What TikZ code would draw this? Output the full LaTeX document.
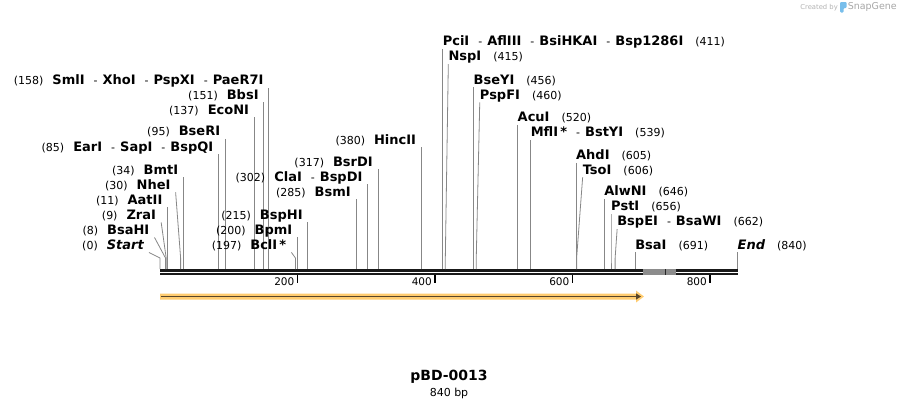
\documentclass[tikz,border=0pt]{standalone}
\usepackage{fontspec}
\setmainfont{DejaVu Sans}
\usetikzlibrary{positioning}
\usetikzlibrary{arrows.meta}
\usetikzlibrary{calc}

\definecolor{featfill}{RGB}{255,204,112}
\definecolor{featline}{RGB}{88,70,42}
\definecolor{leadergray}{RGB}{135,135,135}
\definecolor{logoblue}{RGB}{120,190,235}

% small helpers for the enzyme labels
\newcommand\bpn[1]{{\fontsize{11}{13}\selectfont\mdseries(#1)}}
\newcommand\enz[1]{{\fontsize{13}{15}\selectfont\bfseries #1}}
\newcommand\enzit[1]{{\fontsize{13}{15}\selectfont\bfseries\itshape #1}}
\newcommand\sepr{\hspace{9pt}{\fontsize{11}{13}\selectfont -}\hspace{5pt}}
\newcommand\gapp{\hspace{9pt}}

\tikzset{
  site label/.style={inner sep=1pt, text height=10.5pt, text depth=2pt},
  leader/.style={draw=leadergray, line width=0.8pt},
  bar line/.style={draw=black!90, line width=2.6pt},
  tick/.style={draw=black, line width=1.6pt},
}

\begin{document}
\begin{tikzpicture}[x=1pt,y=-1pt]
      \useasboundingbox (0,0) rectangle (899,408);

      % bp -> pixel position on the map
      \def\xo{160}
      \def\sc{0.6875}

      % the sequence bar
      \coordinate (s0) at (\xo,269);
      \coordinate (s840) at ({\xo+\sc*840},269);
      \draw[bar line] (\xo,270.2) -- (643,270.2) (676,270.2) -- ({\xo+\sc*840},270.2);
      \draw[bar line] (\xo,273.8) -- (643,273.8) (676,273.8) -- ({\xo+\sc*840},273.8);
      \fill[black!45] (643,268.9) rectangle (676,275.1);
      \fill[black!85] (664.5,268.9) rectangle (665.5,275.1);

      % ruler ticks
      \foreach \t in {200,400,600,800}
          {\coordinate (k\t) at ({\xo+\sc*\t},275);
           \draw[tick] (k\t) -- ++(0,8);
           \node[anchor=east, inner sep=1pt, font=\fontsize{10.5}{12}\selectfont] (n\t) at ([xshift=-2pt,yshift=-7pt]k\t) {\t};}

      % sites labelled on the left
      \foreach \bp/\yy/\dx/\id/\txt in {
          158/80.7/0/smlI/{\bpn{158}\gapp\enz{SmlI}\sepr\enz{XhoI}\sepr\enz{PspXI}\sepr\enz{PaeR7I}},
          151/95/0/bbsI/{\bpn{151}\gapp\enz{BbsI}},
          137/110/0/ecoNI/{\bpn{137}\gapp\enz{EcoNI}},
          95/131.5/0/bseRI/{\bpn{95}\gapp\enz{BseRI}},
          85/147/0/earI/{\bpn{85}\gapp\enz{EarI}\sepr\enz{SapI}\sepr\enz{BspQI}},
          34/170/0/bmtI/{\bpn{34}\gapp\enz{BmtI}},
          30/185/-5/nheI/{\bpn{30}\gapp\enz{NheI}},
          11/200/0/aatII/{\bpn{11}\gapp\enz{AatII}},
          9/215/-5/zraI/{\bpn{9}\gapp\enz{ZraI}},
          8/230/-11/bsaHI/{\bpn{8}\gapp\enz{BsaHI}},
          0/245/-11/start/{\bpn{0}\gapp\enzit{Start}},
          215/215/0/bspHI/{\bpn{215}\gapp\enz{BspHI}},
          200/230/0/bpmI/{\bpn{200}\gapp\enz{BpmI}},
          197/245/-4/bclI/{\bpn{197}\gapp\enz{BclI\,*}},
          302/177/0/claI/{\bpn{302}\gapp\enz{ClaI}\sepr\enz{BspDI}},
          285/192/0/bsmI/{\bpn{285}\gapp\enz{BsmI}},
          317/162/0/bsrDI/{\bpn{317}\gapp\enz{BsrDI}},
          380/140/0/hincII/{\bpn{380}\gapp\enz{HincII}}}
          {\coordinate (s\id) at ({\xo+\sc*\bp},269);
           \node[site label, anchor=east] (\id) at ({\xo+\sc*\bp-4+\dx},\yy) {\txt};
           \draw[leader] ([xshift=4pt]\id.south east) -- ([yshift=11pt]s\id) -- (s\id);}

      % sites labelled on the right
      \foreach \bp/\yy/\dx/\id/\txt in {
          411/41.7/0/pciI/{\enz{PciI}\sepr\enz{AflIII}\sepr\enz{BsiHKAI}\sepr\enz{Bsp1286I}\hspace{12pt}\bpn{411}},
          415/56.7/3/nspI/{\enz{NspI}\hspace{12pt}\bpn{415}},
          456/80/0/bseYI/{\enz{BseYI}\hspace{12pt}\bpn{456}},
          460/95/3.5/pspFI/{\enz{PspFI}\hspace{12pt}\bpn{460}},
          520/117.3/0/acuI/{\enz{AcuI}\hspace{12pt}\bpn{520}},
          539/132.5/0/mflI/{\enz{MflI\,*}\sepr\enz{BstYI}\hspace{12pt}\bpn{539}},
          605/155.5/0/ahdI/{\enz{AhdI}\hspace{12pt}\bpn{605}},
          606/170/6/tsoI/{\enz{TsoI}\hspace{12pt}\bpn{606}},
          646/191.7/0/alwNI/{\enz{AlwNI}\hspace{12pt}\bpn{646}},
          656/206.7/0/pstI/{\enz{PstI}\hspace{12pt}\bpn{656}},
          662/221.7/2/bspEI/{\enz{BspEI}\sepr\enz{BsaWI}\hspace{12pt}\bpn{662}},
          691/245/0/bsaI/{\enz{BsaI}\hspace{12pt}\bpn{691}},
          840/245/0/end/{\enzit{End}\hspace{12pt}\bpn{840}}}
          {\coordinate (s\id) at ({\xo+\sc*\bp},269);
           \node[site label, anchor=west] (\id) at ({\xo+\sc*\bp-1+\dx},\yy) {\txt};
           \draw[leader] ([xshift=1pt]\id.south west) -- ([yshift=11pt]s\id) -- (s\id);}

      % feature arrow under the map
      \fill[featfill] (160,293.5) -- (636,293.5) -- (636,290.5) -- (644,296.5)
            -- (636,302.5) -- (636,299.5) -- (160,299.5) -- cycle;
      \draw[featline, line width=1.8pt, -{Triangle[length=5pt,width=6pt]}] (161,296.5) -- (641,296.5);

      % name and size
      \node[font=\fontsize{14}{16}\selectfont\bfseries] (name) at (449,377) {pBD-0013};
      \node[below=0pt of name, inner sep=1pt, font=\fontsize{11}{13}\selectfont] (size) {840 bp};

      % watermark
      \node[anchor=east, inner sep=0pt, text=black!35, font=\fontsize{9.5}{11}\selectfont] (sg) at (897,7) {SnapGene};
      \fill[logoblue, rounded corners=1pt] (840,2) -- (846.5,2) -- (846.5,8) -- (843.5,8) -- (843.5,12.5) -- (840,12.5) -- cycle;
      \node[anchor=east, inner sep=0pt, text=black!30, font=\fontsize{6.8}{8}\selectfont] (cb) at (838,7.5) {Created by};
\end{tikzpicture}
\end{document}
